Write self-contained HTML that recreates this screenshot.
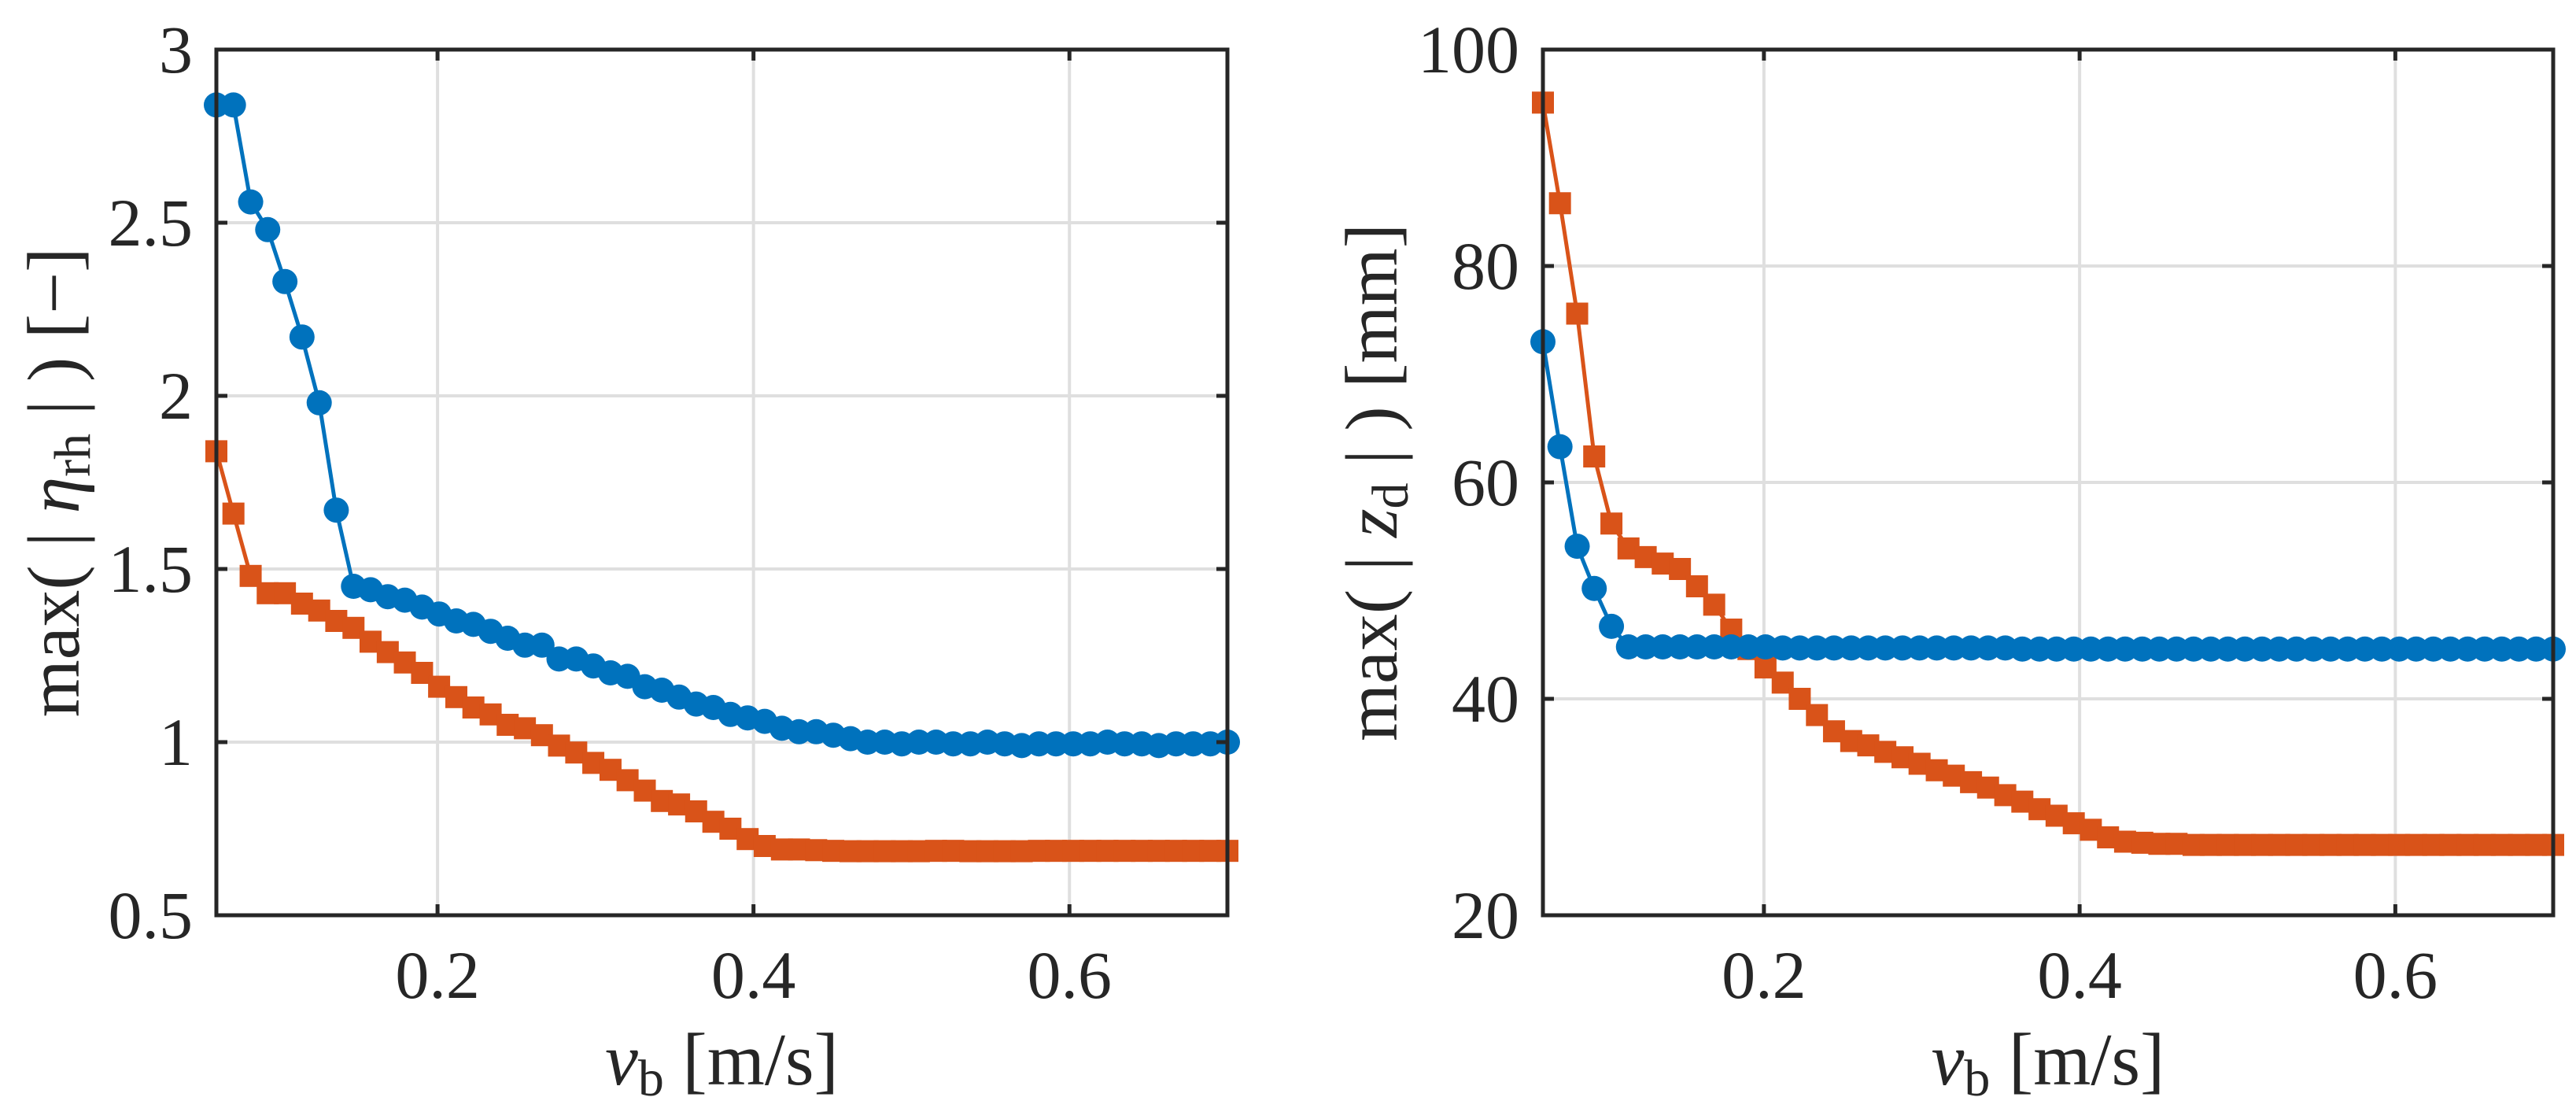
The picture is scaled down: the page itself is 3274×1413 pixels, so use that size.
<!DOCTYPE html>
<html><head><meta charset="utf-8"><style>
html,body{margin:0;padding:0;background:#fff;}
svg{display:block;font-family:"Liberation Serif","DejaVu Serif",serif;}
</style></head><body>
<svg id="fig" width="3274" height="1413" viewBox="0 0 3274 1413" xmlns="http://www.w3.org/2000/svg">
<rect width="3274" height="1413" fill="#fff"/>
<g id="p1"></g>
<g id="p2"></g>
</svg>
<script>
const xs=[0.06,0.0708,0.0817,0.0925,0.1034,0.1142,0.1251,0.1359,0.1468,0.1576,0.1685,0.1793,0.1902,0.2010,0.2119,0.2227,0.2336,0.2444,0.2553,0.2661,0.2769,0.2878,0.2986,0.3095,0.3203,0.3312,0.3420,0.3529,0.3637,0.3746,0.3854,0.3963,0.4071,0.4180,0.4288,0.4397,0.4505,0.4614,0.4722,0.4831,0.4939,0.5047,0.5156,0.5264,0.5373,0.5481,0.5590,0.5698,0.5807,0.5915,0.6024,0.6132,0.6241,0.6349,0.6458,0.6566,0.6675,0.6783,0.6892,0.70];
const etaBlue=[2.84,2.84,2.56,2.48,2.33,2.17,1.98,1.67,1.45,1.44,1.42,1.41,1.39,1.37,1.35,1.34,1.32,1.30,1.28,1.28,1.24,1.24,1.22,1.20,1.19,1.16,1.15,1.13,1.11,1.10,1.08,1.07,1.06,1.04,1.03,1.03,1.02,1.01,1.00,1.00,0.995,1.00,1.00,0.995,0.995,1.00,0.995,0.99,0.995,0.995,0.995,0.995,1.00,0.995,0.995,0.99,0.995,0.995,0.995,1.00];
const etaOrange=[1.84,1.66,1.48,1.43,1.43,1.40,1.38,1.35,1.33,1.29,1.26,1.23,1.20,1.16,1.13,1.10,1.08,1.05,1.04,1.02,0.99,0.97,0.94,0.92,0.89,0.86,0.83,0.82,0.80,0.77,0.75,0.72,0.70,0.69,0.69,0.688,0.686,0.685,0.685,0.685,0.685,0.685,0.686,0.686,0.685,0.685,0.685,0.685,0.686,0.686,0.686,0.686,0.686,0.686,0.686,0.686,0.686,0.686,0.686,0.686];
const zBlue=[73.0,63.3,54.1,50.2,46.7,44.8,44.8,44.8,44.8,44.8,44.8,44.8,44.8,44.8,44.7,44.7,44.7,44.7,44.7,44.7,44.7,44.7,44.7,44.7,44.7,44.7,44.7,44.7,44.6,44.6,44.6,44.6,44.6,44.6,44.6,44.6,44.6,44.6,44.6,44.6,44.6,44.6,44.6,44.6,44.6,44.6,44.6,44.6,44.6,44.6,44.6,44.6,44.6,44.6,44.6,44.6,44.6,44.6,44.6,44.6];
const zOrange=[95.1,85.8,75.6,62.4,56.2,53.9,53.1,52.5,52.0,50.4,48.7,46.4,44.6,42.9,41.5,40.0,38.5,37.0,36.1,35.7,35.1,34.6,34.0,33.4,32.9,32.3,31.8,31.1,30.5,29.8,29.2,28.5,27.9,27.2,26.8,26.7,26.6,26.6,26.5,26.5,26.5,26.5,26.5,26.5,26.5,26.5,26.5,26.5,26.5,26.5,26.5,26.5,26.5,26.5,26.5,26.5,26.5,26.5,26.5,26.5];
const xTicks=[0.2,0.4,0.6];
const xTickLabels=["0.2","0.4","0.6"];
const yTicks1=[0.5,1,1.5,2,2.5,3];
const yTickLabels1=["0.5","1","1.5","2","2.5","3"];
const yTicks2=[20,40,60,80,100];
const yTickLabels2=["20","40","60","80","100"];

const NS="http://www.w3.org/2000/svg";
function mk(tag,attrs,parent){const e=document.createElementNS(NS,tag);for(const k in attrs)e.setAttribute(k,attrs[k]);parent.appendChild(e);return e;}

function panel(g,L,R,yMin,yMax,yT,yTL,blue,orange,ylabelParts,ylx){
  const T=63,B=1163,xMin=0.06,xMax=0.7;
  const sx=v=>L+(v-xMin)/(xMax-xMin)*(R-L);
  const sy=v=>B-(v-yMin)/(yMax-yMin)*(B-T);
  xTicks.forEach(t=>{const l=mk('line',{x1:sx(t),x2:sx(t),y1:T,y2:B,stroke:'#dfdfdf','stroke-width':4},g);
    
    });
  yT.forEach(t=>{const l=mk('line',{x1:L,x2:R,y1:sy(t),y2:sy(t),stroke:'#dfdfdf','stroke-width':4},g);
    
    });
  function series(vals,color,kind,name){
    const pts=xs.map((x,i)=>sx(x).toFixed(1)+','+sy(vals[i]).toFixed(1)).join(' ');
    const pl=mk('polyline',{points:pts,fill:'none',stroke:color,'stroke-width':5},g);
    
    
    xs.forEach((x,i)=>{let m;
      if(kind==='c'){m=mk('circle',{cx:sx(x),cy:sy(vals[i]),r:16,fill:color},g);}
      else{m=mk('rect',{x:sx(x)-14,y:sy(vals[i])-14,width:28,height:28,fill:color},g);}
      
      });
  }
  series(orange,'#D95319','s','orange-series');
  series(blue,'#0072BD','c','blue-series');
  const bx=mk('rect',{x:L,y:T,width:R-L,height:B-T,fill:'none',stroke:'#262626','stroke-width':5},g);
  
  
  xTicks.forEach((t,i)=>{
    mk('line',{x1:sx(t),x2:sx(t),y1:B,y2:B-14,stroke:'#262626','stroke-width':5},g);
    mk('line',{x1:sx(t),x2:sx(t),y1:T,y2:T+14,stroke:'#262626','stroke-width':5},g);
    const tx=mk('text',{x:sx(t),y:1268,'font-size':86,'text-anchor':'middle',fill:'#262626'},g);
    tx.textContent=xTickLabels[i];
    
    });
  yT.forEach((t,i)=>{
    mk('line',{x1:L,x2:L+14,y1:sy(t),y2:sy(t),stroke:'#262626','stroke-width':5},g);
    mk('line',{x1:R,x2:R-14,y1:sy(t),y2:sy(t),stroke:'#262626','stroke-width':5},g);
    const tx=mk('text',{x:L-30,y:sy(t)+29,'font-size':86,'text-anchor':'end',fill:'#262626'},g);
    tx.textContent=yTL[i];
    
    });
  const xl=mk('text',{x:(L+R)/2,y:1378,'font-size':94,'text-anchor':'middle',fill:'#262626'},g);
  
  
  xl.innerHTML='<tspan font-style="italic">v</tspan><tspan font-size="66" dy="14">b</tspan><tspan dy="-14">  [m/s]</tspan>';
  const yl=mk('text',{x:0,y:0,'font-size':94,'text-anchor':'middle',fill:'#262626',transform:'translate('+ylx+','+((T+B)/2)+') rotate(-90)'},g);
  
  
  yl.innerHTML=ylabelParts;
}
panel(document.getElementById('p1'),275,1560,0.5,3,yTicks1,yTickLabels1,etaBlue,etaOrange,
 'max( | <tspan font-style="italic">η</tspan><tspan font-size="66" dy="14">rh</tspan><tspan dy="-14"> | )  [−]</tspan>',100);
panel(document.getElementById('p2'),1961,3245,20,100,yTicks2,yTickLabels2,zBlue,zOrange,
 'max( | <tspan font-style="italic">z</tspan><tspan font-size="66" dy="14">d</tspan><tspan dy="-14"> | )  [mm]</tspan>',1775);
</script>
</body></html>
